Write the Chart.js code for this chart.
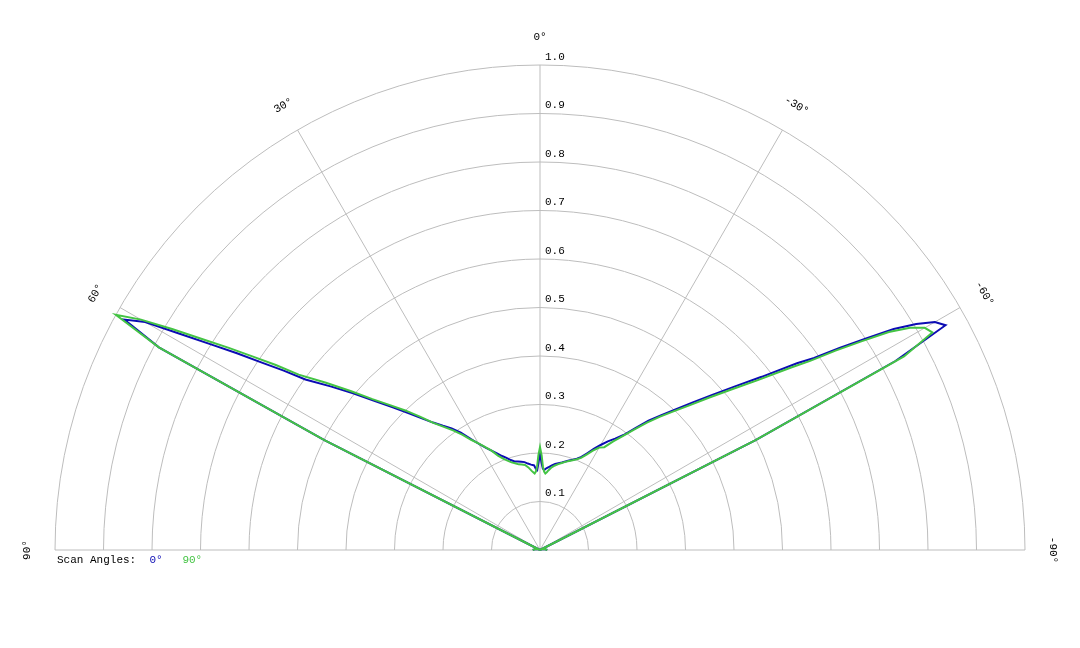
<!DOCTYPE html>
<html>
<head>
<meta charset="utf-8">
<style>
    html, body { margin: 0; padding: 0; background: #fff; }
    canvas { display: block; }
</style>
<script src="https://cdn.jsdelivr.net/npm/chart.js@4.4.1/dist/chart.umd.min.js"></script>
</head>
<body>
<canvas id="polarChart" width="1080" height="648"></canvas>
<script>
// angle in degrees, positive to the left of 0 (top)
const angles = [90, 80, 70, 66, 64, 63, 62, 61, 60, 59, 58, 57, 56, 55, 54,
    52, 50, 48, 46, 44, 42, 40, 38, 36, 34, 32, 30, 28, 26, 24, 22, 20, 18, 16, 14, 12, 10, 8, 6,
    5, 4, 3, 2, 1, 0, -1, -2, -3, -4, -5,
    -6, -8, -10, -12, -14, -16, -18, -20, -22, -24, -26, -28, -30, -32, -34, -36, -38, -40, -42, -44, -46, -48, -50, -52,
    -54, -55, -56, -57, -58, -59, -60, -61, -62, -63, -64, -66, -70, -80, -90];

const scan0 = [0.015, 0.01, 0.005, 0, 0, 0.5, 0.89, 0.98, 0.94, 0.865, 0.80, 0.745, 0.69, 0.645, 0.598,
    0.548, 0.503, 0.46, 0.424, 0.393, 0.366, 0.343, 0.325, 0.31, 0.292, 0.27, 0.253, 0.239, 0.228, 0.218, 0.209, 0.202, 0.195, 0.19, 0.188, 0.186, 0.184, 0.18, 0.177,
    0.176, 0.175, 0.168, 0.165, 0.18, 0.2, 0.18, 0.168, 0.165, 0.168, 0.17,
    0.172, 0.176, 0.18, 0.183, 0.186, 0.19, 0.194, 0.198, 0.203, 0.21, 0.222, 0.236, 0.25, 0.264, 0.277, 0.293, 0.318, 0.348, 0.374, 0.404, 0.438, 0.478, 0.525, 0.58,
    0.655, 0.69, 0.745, 0.80, 0.86, 0.905, 0.94, 0.956, 0.83, 0.5, 0, 0, 0.005, 0.01, 0.015];

const scan90 = [0.015, 0.01, 0.005, 0, 0, 0.5, 0.89, 1.0, 0.95, 0.885, 0.82, 0.765, 0.712, 0.665, 0.615,
    0.56, 0.51, 0.465, 0.43, 0.4, 0.37, 0.342, 0.322, 0.305, 0.287, 0.268, 0.254, 0.24, 0.228, 0.213, 0.203, 0.196, 0.19, 0.186, 0.182, 0.18, 0.178, 0.172, 0.164,
    0.161, 0.158, 0.162, 0.172, 0.195, 0.212, 0.195, 0.172, 0.162, 0.158, 0.161,
    0.165, 0.172, 0.177, 0.181, 0.185, 0.189, 0.193, 0.197, 0.202, 0.208, 0.219, 0.232, 0.244, 0.25, 0.27, 0.29, 0.315, 0.343, 0.37, 0.398, 0.43, 0.47, 0.515, 0.568,
    0.64, 0.68, 0.735, 0.79, 0.848, 0.89, 0.916, 0.925, 0.85, 0.5, 0, 0, 0.005, 0.01, 0.015];

const ringTicks = [0.1, 0.2, 0.3, 0.4, 0.5, 0.6, 0.7, 0.8, 0.9, 1.0];
const spokeAngles = [90, 60, 30, 0, -30, -60, -90];

const blue = '#0c0cb4';
const green = '#44c444';
const font = '11px "Liberation Mono", "Courier New", monospace';

function toPoints(radii) {
    return angles.map((a, i) => {
        let t = a * Math.PI / 180;
        return { x: -radii[i] * Math.sin(t), y: radii[i] * Math.cos(t) };
    });
}

const polarGrid = {
    id: 'polarGrid',
    beforeDatasetsDraw(chart) {
        const ctx = chart.ctx;
        const sx = chart.scales.x, sy = chart.scales.y;
        const cx = sx.getPixelForValue(0), cy = sy.getPixelForValue(0);
        const R = sx.getPixelForValue(1) - cx;

        ctx.save();
        ctx.strokeStyle = '#bdbdbd';
        ctx.lineWidth = 1;
        ringTicks.forEach(r => {
            ctx.beginPath();
            ctx.arc(cx, cy, r * R, Math.PI, 2 * Math.PI);
            ctx.stroke();
        });
        spokeAngles.forEach(a => {
            let t = a * Math.PI / 180;
            ctx.beginPath();
            ctx.moveTo(cx, cy);
            ctx.lineTo(cx - R * Math.sin(t), cy - R * Math.cos(t));
            ctx.stroke();
        });

        ctx.fillStyle = '#000';
        ctx.font = font;
        ctx.textAlign = 'left';
        ctx.textBaseline = 'middle';
        ringTicks.forEach(r => {
            ctx.fillText(r.toFixed(1), cx + 5, cy - r * R - 8);
        });

        ctx.textAlign = 'center';
        spokeAngles.forEach(a => {
            let t = a * Math.PI / 180;
            let rl = R * 1.058;
            ctx.save();
            ctx.translate(cx - rl * Math.sin(t), cy - rl * Math.cos(t));
            ctx.rotate(-t);
            ctx.fillText(a + '°', 0, 0);
            ctx.restore();
        });

        // legend
        ctx.textAlign = 'left';
        let lx = cx - R + 2, ly = cy + 10;
        let label = 'Scan Angles:  ';
        ctx.fillStyle = '#000';
        ctx.fillText(label, lx, ly);
        lx += ctx.measureText(label).width;
        ctx.fillStyle = blue;
        ctx.fillText('0°', lx, ly);
        lx += ctx.measureText('0°   ').width;
        ctx.fillStyle = green;
        ctx.fillText('90°', lx, ly);
        ctx.restore();
    }
};

const canvas = document.getElementById('polarChart');
const unit = 485;

new Chart(canvas, {
    type: 'scatter',
    data: {
        datasets: [{
            label: '0°',
            data: toPoints(scan0),
            showLine: true,
            borderColor: blue,
            borderWidth: 2,
            pointRadius: 0,
            tension: 0,
            order: 1
        }, {
            label: '90°',
            data: toPoints(scan90),
            showLine: true,
            borderColor: green,
            borderWidth: 2,
            pointRadius: 0,
            tension: 0,
            order: 0
        }]
    },
    options: {
        responsive: false,
        animation: false,
        layout: { padding: 0 },
        plugins: {
            legend: { display: false },
            tooltip: { enabled: false }
        },
        scales: {
            x: { type: 'linear', display: false, min: -540 / unit, max: 540 / unit },
            y: { type: 'linear', display: false, min: -98 / unit, max: 550 / unit }
        }
    },
    plugins: [polarGrid]
});
</script>
</body>
</html>
